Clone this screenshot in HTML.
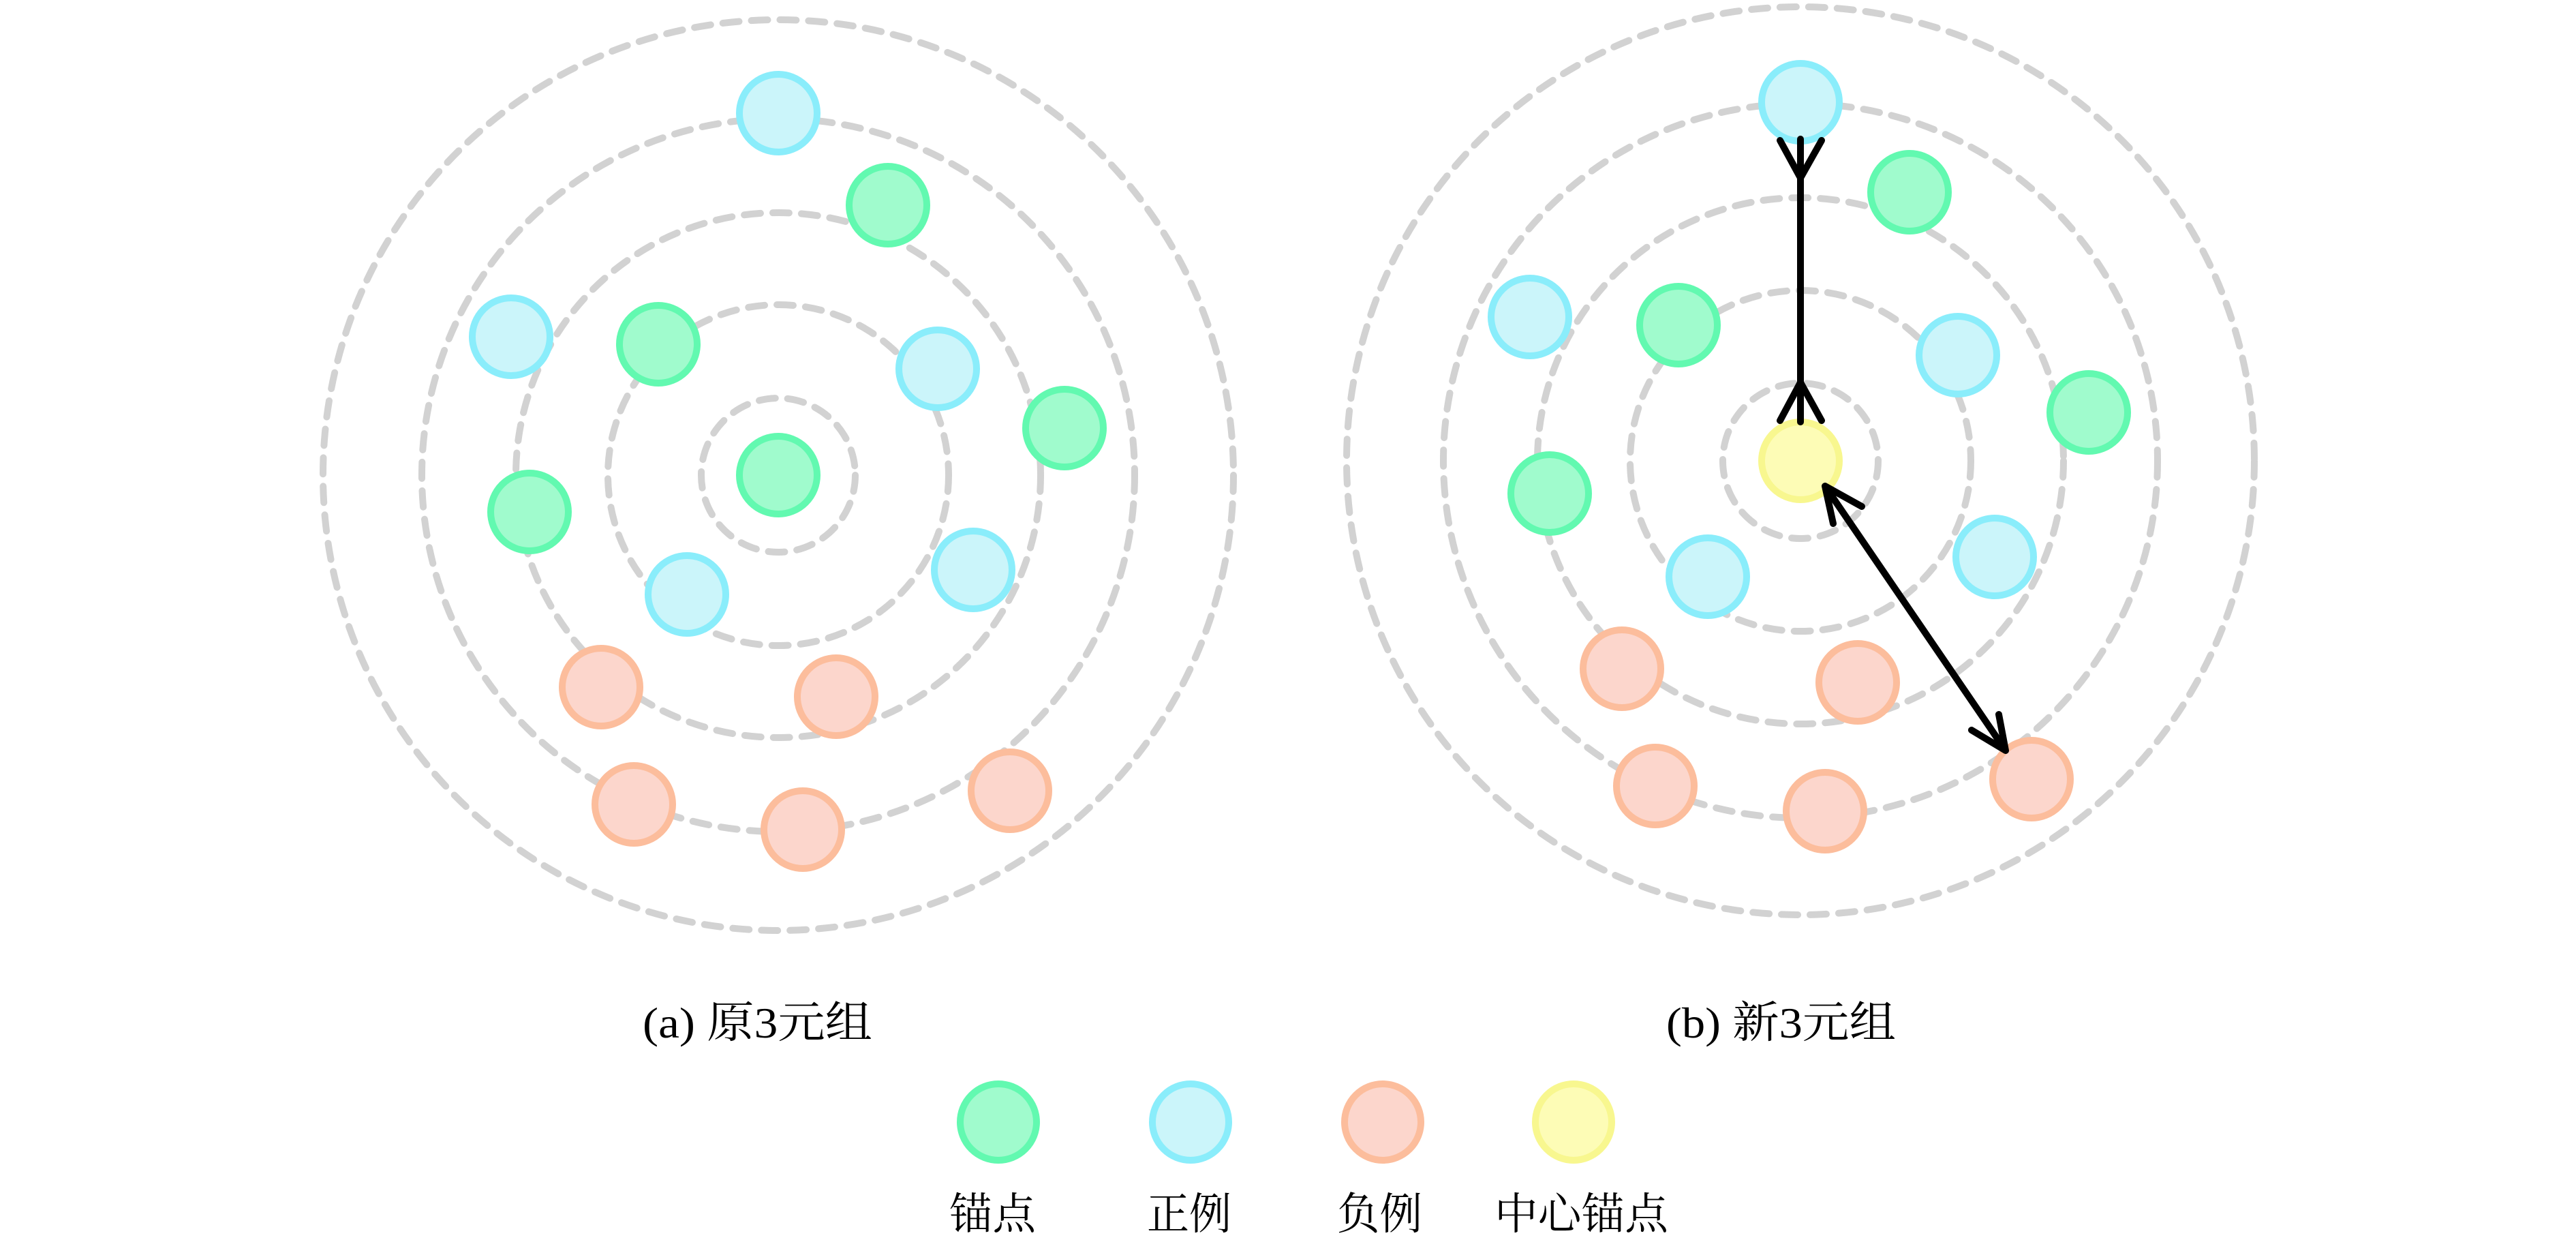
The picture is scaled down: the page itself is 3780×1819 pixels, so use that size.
<!DOCTYPE html>
<html><head><meta charset="utf-8"><style>
html,body{margin:0;padding:0;background:#fff;}
svg{display:block;}
</style></head><body>
<svg width="3780" height="1819" viewBox="0 0 3780 1819" xmlns="http://www.w3.org/2000/svg">
<defs>
<style>
.ring{fill:none;stroke:#d2d2d2;stroke-width:10;stroke-dasharray:24 18;stroke-linecap:round;}
.g{fill:#a0fbcd;stroke:#62f9b0;stroke-width:10;}
.b{fill:#cbf5fa;stroke:#8aedfb;stroke-width:10;}
.s{fill:#fcd6cc;stroke:#fcbd9c;stroke-width:10;}
.y{fill:#fdfcb6;stroke:#f8f78f;stroke-width:10;}
.ar{fill:none;stroke:#000;stroke-width:10;stroke-linecap:round;stroke-linejoin:round;}
.t{font-family:"Liberation Serif","Noto Serif CJK SC",serif;font-size:64px;fill:#000;}
</style>
</defs>
<rect width="3780" height="1819" fill="#fff"/>
<g>
<circle class="ring" cx="1142" cy="697" r="113"/>
<circle class="ring" cx="1142" cy="697" r="250"/>
<circle class="ring" cx="1142" cy="697" r="385"/>
<circle class="ring" cx="1142" cy="697" r="523"/>
<circle class="ring" cx="1142" cy="697" r="668"/>
</g>
<g>
<circle class="b" cx="1142" cy="166" r="57"/>
<circle class="g" cx="1303" cy="301" r="57"/>
<circle class="b" cx="750" cy="494" r="57"/>
<circle class="g" cx="966" cy="505" r="57"/>
<circle class="b" cx="1376" cy="541" r="57"/>
<circle class="g" cx="1562" cy="628" r="57"/>
<circle class="g" cx="1142" cy="697" r="57"/>
<circle class="g" cx="777" cy="751" r="57"/>
<circle class="b" cx="1428" cy="836" r="57"/>
<circle class="b" cx="1008" cy="872" r="57"/>
<circle class="s" cx="882" cy="1008" r="57"/>
<circle class="s" cx="1227" cy="1022" r="57"/>
<circle class="s" cx="1482" cy="1160" r="57"/>
<circle class="s" cx="930" cy="1180" r="57"/>
<circle class="s" cx="1178" cy="1217" r="57"/>
</g>
<g>
<circle class="ring" cx="2642" cy="676" r="114"/>
<circle class="ring" cx="2642" cy="676" r="250"/>
<circle class="ring" cx="2642" cy="676" r="386"/>
<circle class="ring" cx="2642" cy="676" r="524"/>
<circle class="ring" cx="2642" cy="676" r="666"/>
</g>
<g>
<circle class="b" cx="2642" cy="150" r="57"/>
<circle class="g" cx="2802" cy="282" r="57"/>
<circle class="b" cx="2245" cy="465" r="57"/>
<circle class="g" cx="2463" cy="477" r="57"/>
<circle class="b" cx="2873" cy="521" r="57"/>
<circle class="g" cx="3065" cy="605" r="57"/>
<circle class="y" cx="2642" cy="676" r="57"/>
<circle class="g" cx="2274" cy="724" r="57"/>
<circle class="b" cx="2927" cy="817" r="57"/>
<circle class="b" cx="2506" cy="846" r="57"/>
<circle class="s" cx="2380" cy="981" r="57"/>
<circle class="s" cx="2726" cy="1001" r="57"/>
<circle class="s" cx="2981" cy="1143" r="57"/>
<circle class="s" cx="2429" cy="1153" r="57"/>
<circle class="s" cx="2678" cy="1190" r="57"/>
</g>
<g>
<line class="ar" x1="2642" y1="204" x2="2642" y2="619"/>
<polyline class="ar" points="2612,206 2642,261 2673,206"/>
<polyline class="ar" points="2612,617 2642,561 2673,617"/>
<line class="ar" x1="2680" y1="716" x2="2941" y2="1098"/>
<polyline class="ar" points="2732,743 2678,713 2690,768"/>
<polyline class="ar" points="2893,1071 2943,1101 2933,1048"/>
</g>
<text class="t" x="943" y="1522" textLength="337" lengthAdjust="spacingAndGlyphs">(a) 原3元组</text>
<text class="t" x="2445" y="1522" textLength="337" lengthAdjust="spacingAndGlyphs">(b) 新3元组</text>
<circle class="g" cx="1465" cy="1646" r="56"/>
<circle class="b" cx="1747" cy="1646" r="56"/>
<circle class="s" cx="2029" cy="1646" r="56"/>
<circle class="y" cx="2309" cy="1646" r="56"/>
<text class="t" x="1393" y="1803" textLength="127" lengthAdjust="spacingAndGlyphs">锚点</text>
<text class="t" x="1683" y="1803" textLength="124" lengthAdjust="spacingAndGlyphs">正例</text>
<text class="t" x="1962" y="1803" textLength="125" lengthAdjust="spacingAndGlyphs">负例</text>
<text class="t" x="2193" y="1803" textLength="255" lengthAdjust="spacingAndGlyphs">中心锚点</text>
</svg>
</body></html>
